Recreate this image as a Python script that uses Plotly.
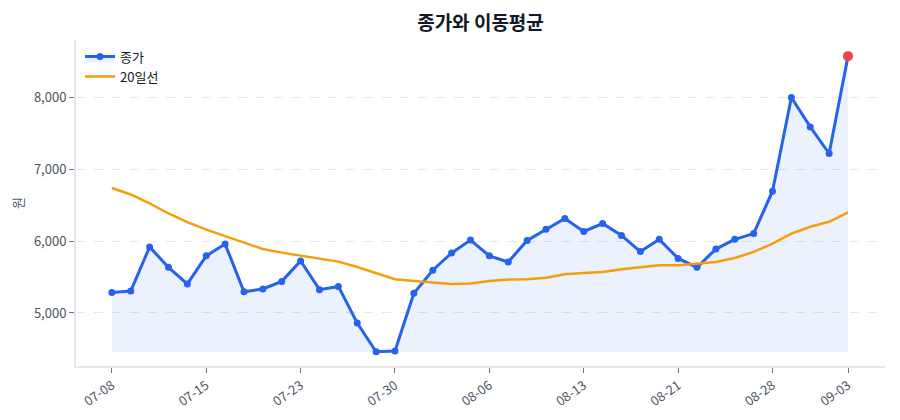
import plotly.graph_objects as go

# 거래일 (2024, 휴장일 제외)
dates = [
    "07-08", "07-09", "07-10", "07-11", "07-12",
    "07-15", "07-16", "07-18", "07-19", "07-22",
    "07-23", "07-24", "07-25", "07-26", "07-29",
    "07-30", "07-31", "08-01", "08-02", "08-05",
    "08-06", "08-07", "08-08", "08-09", "08-12",
    "08-13", "08-14", "08-16", "08-19", "08-20",
    "08-21", "08-22", "08-23", "08-26", "08-27",
    "08-28", "08-29", "08-30", "09-02", "09-03",
]

close = [
    5285, 5305, 5920, 5635, 5405, 5795, 5960, 5295, 5335, 5440,
    5725, 5325, 5370, 4860, 4460, 4470, 5275, 5595, 5835, 6015,
    5795, 5710, 6010, 6165, 6315, 6135, 6245, 6080, 5855, 6025,
    5760, 5635, 5890, 6025, 6105, 6695, 8000, 7590, 7220, 8575,
]

ma20 = [
    6740, 6650, 6525, 6385, 6265, 6160, 6070, 5980, 5890, 5840,
    5795, 5750, 5715, 5640, 5555, 5470, 5445, 5425, 5405, 5410,
    5445, 5465, 5470, 5490, 5540, 5555, 5570, 5610, 5635, 5665,
    5665, 5685, 5710, 5765, 5850, 5965, 6105, 6200, 6270, 6400,
]

tick_labels = dates[::5] + [dates[-1]]

blue = "#2563eb"
orange = "#f59e0b"
font_family = "Noto Sans CJK KR, Noto Sans, sans-serif"

fig = go.Figure()

# 채우기 기준선 (최저 종가)
base = min(close)
fig.add_trace(go.Scatter(
    x=dates, y=[base] * len(dates), mode="lines",
    line=dict(width=0, color="rgba(0,0,0,0)"),
    showlegend=False, hoverinfo="skip",
))
fig.add_trace(go.Scatter(
    x=dates, y=close, mode="lines+markers", name="종가",
    line=dict(color=blue, width=3),
    marker=dict(size=7, color=blue),
    fill="tonexty", fillcolor="rgba(37,99,235,0.09)",
))
fig.add_trace(go.Scatter(
    x=dates, y=ma20, mode="lines", name="20일선",
    line=dict(color=orange, width=2.5),
))
fig.add_trace(go.Scatter(
    x=[dates[-1]], y=[close[-1]], mode="markers",
    marker=dict(size=10, color="#ef4444"),
    showlegend=False,
))

# 페이지 body 여백(8px)만큼 줄인 크기
fig.update_layout(
    width=884, height=404,
    margin=dict(l=68, r=7, t=32, b=46),
    paper_bgcolor="white", plot_bgcolor="white",
    font=dict(family=font_family, size=13, color="#374151"),
    title=dict(text="<b>종가와 이동평균</b>", xref="paper", x=0.5, xanchor="center",
               yref="container", y=0.962, yanchor="middle",
               font=dict(size=19, color="#111827")),
    legend=dict(x=0.005, y=0.995, xanchor="left", yanchor="top",
                traceorder="normal",
                bgcolor="rgba(255,255,255,0)", font=dict(size=13, color="#111827")),
    showlegend=True,
)

fig.update_xaxes(
    type="category", range=[-1.9, 40.96], automargin=False,
    tickmode="array", tickvals=tick_labels, ticktext=tick_labels,
    tickangle=-35, ticks="outside", ticklen=5, tickcolor="#6b7280",
    showline=True, linecolor="#e5e7eb", linewidth=2,
    showgrid=False, tickfont=dict(size=13, color="#4b5563"),
)
fig.update_yaxes(
    range=[4262, 8800], tickformat=",", dtick=1000, automargin=False,
    ticks="outside", ticklen=5, tickcolor="#6b7280",
    showline=True, linecolor="#e5e7eb", linewidth=2,
    showgrid=True, gridcolor="#e5e7eb", griddash="dash",
    zeroline=False,
    title=dict(text="원", standoff=10, font=dict(size=13, color="#4b5563")),
    tickfont=dict(size=13, color="#4b5563"),
)

fig.write_html("out.html")
